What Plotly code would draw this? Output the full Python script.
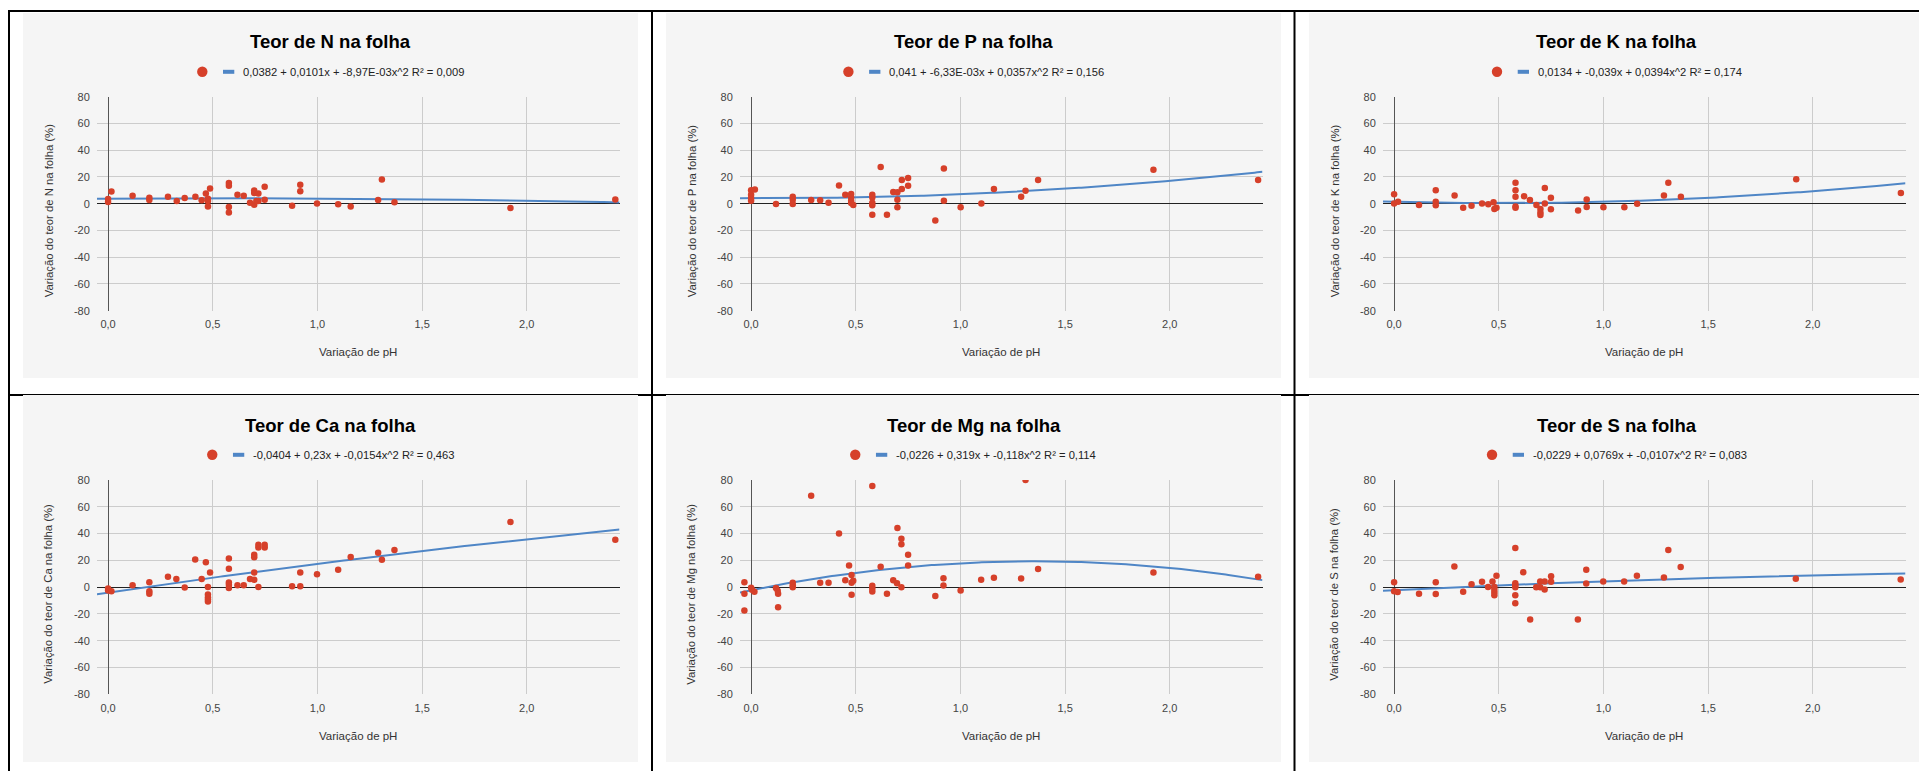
import numpy as np
import plotly.graph_objects as go

# ---------------- data ----------------
titles = ["Teor de N na folha", "Teor de P na folha", "Teor de K na folha",
          "Teor de Ca na folha", "Teor de Mg na folha", "Teor de S na folha"]
y_titles = ["Variação do teor de N na folha (%)", "Variação do teor de P na folha (%)",
            "Variação do teor de K na folha (%)", "Variação do teor de Ca na folha (%)",
            "Variação do teor de Mg na folha (%)", "Variação do teor de S na folha (%)"]
x_title = "Variação de pH"
legend_texts = ["0,0382 + 0,0101x + -8,97E-03x^2 R² = 0,009",
                "0,041 + -6,33E-03x + 0,0357x^2 R² = 0,156",
                "0,0134 + -0,039x + 0,0394x^2 R² = 0,174",
                "-0,0404 + 0,23x + -0,0154x^2 R² = 0,463",
                "-0,0226 + 0,319x + -0,118x^2 R² = 0,114",
                "-0,0229 + 0,0769x + -0,0107x^2 R² = 0,083"]
# trendline coefficients (fraction): c0 + c1*x + c2*x^2 ; plotted in %
coef_N = [0.0382, 0.0101, -8.97e-3]
coef_P = [0.041, -6.33e-3, 0.0357]
coef_K = [0.0134, -0.039, 0.0394]
coef_Ca = [-0.0404, 0.23, -0.0154]
coef_Mg = [-0.0226, 0.319, -0.118]
coef_S = [-0.0229, 0.0769, -0.0107]

N_x = [0.0, 0.0, 0.016, 0.117, 0.197, 0.197, 0.286, 0.328, 0.366, 0.417, 0.447, 0.467, 0.477, 0.477, 0.477,
       0.487, 0.577, 0.577, 0.577, 0.577, 0.618, 0.648, 0.678, 0.698, 0.698, 0.698, 0.708, 0.718, 0.718, 0.748,
       0.748, 0.879, 0.918, 0.918, 0.998, 1.099, 1.159, 1.290, 1.308, 1.368, 1.922, 2.423]
N_y = [3.5, 1.2, 9.2, 6.0, 4.5, 2.7, 5.2, 2.0, 4.2, 5.2, 2.5, 7.7, 3.7, 2.0, -2.0, 11.4, 15.4, 13.4, -2.5, -6.5,
       6.7, 6.0, 0.7, 9.9, 8.0, -0.7, 2.0, 7.7, 2.0, 12.7, 3.0, -1.5, 14.2, 9.4, 0.2, -0.5, -2.0, 2.7, 18.1, 1.0,
       -3.2, 3.2]

P_x = [0, 0, 0, 0, 0.018, 0.119, 0.199, 0.199, 0.199, 0.287, 0.330, 0.370, 0.420, 0.450, 0.478, 0.478, 0.478,
       0.478, 0.488, 0.579, 0.579, 0.579, 0.579, 0.579, 0.619, 0.649, 0.679, 0.699, 0.699, 0.699, 0.720, 0.720,
       0.750, 0.750, 0.880, 0.921, 0.921, 1.001, 1.100, 1.160, 1.290, 1.311, 1.371, 1.922, 2.422]
P_y = [10.0, 6.7, 4.2, 2.2, 10.7, -0.2, 5.2, 3.0, -0.2, 2.7, 2.5, 0.7, 13.7, 6.7, 7.2, 4.7, 2.2, 0.5, -1.0, 6.7,
       4.7, 0.7, -1.2, -8.2, 27.4, -8.2, 8.7, 8.5, 3.0, -2.7, 11.0, 17.7, 19.2, 13.5, -12.5, 26.4, 2.2, -2.7, 0.2,
       11.0, 5.2, 9.7, 17.7, 25.4, 17.7]

K_x = [0, 0, 0.019, 0.119, 0.199, 0.199, 0.199, 0.289, 0.330, 0.370, 0.420, 0.450, 0.475, 0.479, 0.489, 0.580,
       0.580, 0.580, 0.580, 0.580, 0.621, 0.649, 0.680, 0.699, 0.699, 0.699, 0.720, 0.720, 0.749, 0.749, 0.879,
       0.920, 0.920, 1.000, 1.100, 1.161, 1.289, 1.310, 1.370, 1.921, 2.421]
K_y = [7.0, 0.2, 1.5, -1.0, 10.0, 1.5, -1.2, 6.2, -3.0, -1.5, 0.2, -0.5, 1.0, -4.0, -3.0, 15.7, 10.0, 5.2, -2.0,
       -3.0, 5.5, 2.7, -1.0, -4.0, -6.5, -8.5, 0.2, 11.7, 4.5, -4.2, -5.0, 3.2, -2.5, -2.7, -2.7, 0.0, 6.2, 15.7,
       5.2, 18.2, 8.0]

Ca_x = [0, 0, 0.016, 0.117, 0.197, 0.197, 0.197, 0.286, 0.326, 0.366, 0.416, 0.447, 0.467, 0.477, 0.477, 0.477,
        0.477, 0.477, 0.487, 0.577, 0.577, 0.577, 0.577, 0.577, 0.618, 0.648, 0.678, 0.698, 0.698, 0.698, 0.698,
        0.718, 0.718, 0.718, 0.748, 0.748, 0.879, 0.918, 0.918, 0.998, 1.099, 1.159, 1.290, 1.308, 1.368, 1.922,
        2.423]
Ca_y = [-1.0, -2.5, -3.0, 1.5, 3.7, -3.0, -5.0, 7.7, 6.0, -0.2, 20.6, 6.0, 18.6, 0.2, -5.5, -7.5, -9.0, -10.7,
        10.9, 21.4, 13.7, 3.5, 1.7, -0.7, 1.5, 1.5, 6.0, 24.1, 22.4, 10.9, 5.5, 0.2, 31.6, 29.6, 31.6, 29.6, 0.7,
        10.9, 0.7, 9.7, 12.9, 22.6, 25.6, 20.4, 27.8, 48.7, 35.3]

Mg_x = [-0.032, -0.032, -0.032, 0.0, 0.004, 0.016, 0.119, 0.127, 0.129, 0.129, 0.199, 0.199, 0.199, 0.287, 0.330,
        0.370, 0.420, 0.450, 0.468, 0.480, 0.480, 0.480, 0.488, 0.579, 0.579, 0.579, 0.579, 0.619, 0.649, 0.679,
        0.697, 0.699, 0.718, 0.718, 0.718, 0.750, 0.750, 0.880, 0.919, 0.919, 1.001, 1.099, 1.160, 1.290, 1.311,
        1.371, 1.922, 2.422]
Mg_y = [3.7, -5.0, -17.4, -0.5, -2.0, -3.5, -0.7, -2.7, -5.0, -15.0, 3.2, 1.5, 0.0, 68.3, 3.2, 3.2, 40.1, 5.2,
        16.2, 9.0, 3.2, -5.7, 4.7, 75.5, 1.0, -1.0, -3.2, 15.2, -5.0, 5.2, 3.0, 44.1, 36.1, 32.1, 0.0, 24.2, 16.2,
        -6.7, 6.7, 1.2, -2.5, 5.5, 7.0, 6.5, 80.0, 13.5, 11.0, 7.7]

S_x = [0, 0, 0.017, 0.119, 0.199, 0.199, 0.288, 0.330, 0.370, 0.420, 0.449, 0.470, 0.479, 0.479, 0.479, 0.479,
       0.489, 0.579, 0.579, 0.579, 0.579, 0.579, 0.579, 0.617, 0.650, 0.679, 0.698, 0.698, 0.719, 0.719, 0.750,
       0.750, 0.878, 0.918, 0.918, 0.999, 1.099, 1.160, 1.289, 1.310, 1.369, 1.919, 2.420]
S_y = [3.7, -3.0, -3.7, -5.0, 3.7, -5.2, 15.5, -3.5, 2.2, 4.0, 0.2, 4.2, 0.2, -2.0, -4.0, -6.0, 8.5, 29.2, 3.0,
       1.5, 0.0, -6.0, -12.0, 11.2, -24.2, 0.0, 4.2, 0.0, 4.2, -1.7, 8.2, 4.0, -24.2, 13.0, 2.7, 4.2, 4.2, 8.5,
       7.2, 27.7, 15.0, 6.2, 5.7]

x_tickvals = [0, 0.5, 1.0, 1.5, 2.0]
x_ticktext = ["0,0", "0,5", "1,0", "1,5", "2,0"]
y_tickvals = [-80, -60, -40, -20, 0, 20, 40, 60, 80]
y_ticktext = ["-80", "-60", "-40", "-20", "0", "20", "40", "60", "80"]

series_x = [N_x, P_x, K_x, Ca_x, Mg_x, S_x]
series_y = [N_y, P_y, K_y, Ca_y, Mg_y, S_y]
coefs = [coef_N, coef_P, coef_K, coef_Ca, coef_Mg, coef_S]

# ---------------- layout geometry (pixels) ----------------
W, H = 1919, 771
RED = "#d6402a"
BLUE = "#4f86c6"
PANEL = "#f5f5f5"
FONT = "Liberation Sans, Arial, sans-serif"
X_RANGE = [-0.053, 2.443]

panel_cols = [23, 666, 1309]
panel_w = 615
panel_rows = [(13, 378), (395, 762)]
plot_rows = [(96.7, 310.7), (480, 694.3)]
title_y = [41.7, 425]
legend_y = [71.8, 454.8]
xtitle_y = [352, 736]


def px(x):
    return x / W


def py(y):
    return 1 - y / H


# Arial / Liberation Sans advance widths (em/1000) for legend width estimate
AW = {"0": 556, "1": 556, "2": 556, "3": 556, "4": 556, "5": 556, "6": 556, "7": 556, "8": 556, "9": 556,
      ",": 278, " ": 278, "+": 584, "-": 333, "x": 500, "^": 469, "E": 667, "R": 722, "²": 333, "=": 584}
LEG_FS = 11.2


def text_width(s, fs):
    return sum(AW.get(c, 556) for c in s) / 1000.0 * fs


fig = go.Figure()
shapes = []
annotations = []
layout_axes = {}

# borders (table lines)
border_rects = [(8, 10, W, 12), (8, 10, 10, H), (651, 10, 653, H), (1293.5, 10, 1295.5, H), (8, 394, W, 396)]
for (x0, y0, x1, y1) in border_rects:
    shapes.append(dict(type="rect", xref="paper", yref="paper", x0=px(x0), x1=px(x1), y0=py(y1), y1=py(y0),
                       fillcolor="black", line=dict(width=0), layer="below"))

for i in range(6):
    r, c = divmod(i, 3)
    pl = panel_cols[c]
    pt, pb = panel_rows[r]
    shapes.append(dict(type="rect", xref="paper", yref="paper", x0=px(pl), x1=px(min(pl + panel_w, W)),
                       y0=py(pb), y1=py(pt), fillcolor=PANEL, line=dict(width=0), layer="below"))
    plot_l, plot_r = pl + 74, pl + 596.5
    plot_t, plot_b = plot_rows[r]
    k = "" if i == 0 else str(i + 1)
    xa, ya = "x" + k, "y" + k
    layout_axes["xaxis" + k] = dict(
        domain=[px(plot_l), px(plot_r)], anchor=ya, range=X_RANGE, tickvals=x_tickvals, ticktext=x_ticktext,
        showgrid=True, gridcolor="#cccccc", gridwidth=1, zeroline=True, zerolinecolor="#555555",
        zerolinewidth=1.3, showline=False, ticks="outside", ticklen=3, tickcolor="rgba(0,0,0,0)",
        tickfont=dict(family=FONT, size=11, color="#444444"), automargin=False, fixedrange=True)
    layout_axes["yaxis" + k] = dict(
        domain=[py(plot_b), py(plot_t)], anchor=xa, range=[-80, 80], tickvals=y_tickvals, ticktext=y_ticktext,
        showgrid=True, gridcolor="#cccccc", gridwidth=1, zeroline=True, zerolinecolor="#222222",
        zerolinewidth=1, showline=False, ticks="outside", ticklen=4, tickcolor="rgba(0,0,0,0)",
        tickfont=dict(family=FONT, size=11, color="#444444"), automargin=False, fixedrange=True)

    # trendline
    c0, c1, c2 = coefs[i]
    xs = np.linspace(X_RANGE[0], X_RANGE[1], 200)
    ys = 100 * (c0 + c1 * xs + c2 * xs ** 2)
    fig.add_trace(go.Scatter(x=xs, y=ys, mode="lines", line=dict(color=BLUE, width=2), xaxis=xa, yaxis=ya,
                             showlegend=False, hoverinfo="skip"))
    # points
    fig.add_trace(go.Scatter(x=series_x[i], y=series_y[i], mode="markers",
                             marker=dict(color=RED, size=6.5, line=dict(width=0)), xaxis=xa, yaxis=ya,
                             showlegend=False, cliponaxis=True))

    pc = pl + panel_w / 2
    # title
    annotations.append(dict(text="<b>%s</b>" % titles[i], x=px(pc), y=py(title_y[r]), xref="paper", yref="paper",
                            xanchor="center", yanchor="middle", showarrow=False,
                            font=dict(family=FONT, size=18.5, color="#000000")))
    # legend
    tw = text_width(legend_texts[i], LEG_FS)
    tl = pc + 22.3 - tw / 2
    ly = legend_y[r]
    annotations.append(dict(text=legend_texts[i], x=px(tl - 1), y=py(ly), xref="paper", yref="paper",
                            xanchor="left", yanchor="middle", showarrow=False,
                            font=dict(family=FONT, size=LEG_FS, color="#222222")))
    mx = tl - 39.7
    shapes.append(dict(type="circle", xref="paper", yref="paper", x0=px(mx - 5.2), x1=px(mx + 5.2),
                       y0=py(ly + 5.2), y1=py(ly - 5.2), fillcolor=RED, line=dict(width=0), layer="above"))
    shapes.append(dict(type="rect", xref="paper", yref="paper", x0=px(tl - 19), x1=px(tl - 7.7),
                       y0=py(ly + 2), y1=py(ly - 2), fillcolor=BLUE, line=dict(width=0), layer="above"))
    # axis titles
    annotations.append(dict(text=x_title, x=px((plot_l + plot_r) / 2), y=py(xtitle_y[r]), xref="paper",
                            yref="paper", xanchor="center", yanchor="middle", showarrow=False,
                            font=dict(family=FONT, size=11.5, color="#333333")))
    annotations.append(dict(text=y_titles[i], x=px(pl + 25.5), y=py((plot_t + plot_b) / 2 + 7), xref="paper",
                            yref="paper", xanchor="center", yanchor="middle", showarrow=False, textangle=-90,
                            font=dict(family=FONT, size=11.3, color="#333333")))

fig.update_layout(width=W, height=H, margin=dict(l=0, r=0, t=0, b=0), paper_bgcolor="white",
                  plot_bgcolor=PANEL, showlegend=False, shapes=shapes, annotations=annotations,
                  hovermode=False, **layout_axes)
fig.write_html("out.html", config=dict(displayModeBar=False),
               post_script="document.body.style.margin='0';document.body.style.overflow='hidden';")
